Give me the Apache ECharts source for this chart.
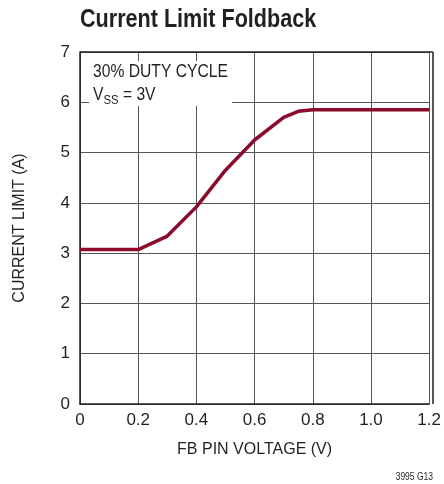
<!DOCTYPE html>
<html><head><meta charset="utf-8">
<script src="https://cdn.jsdelivr.net/npm/echarts@6/dist/echarts.min.js"></script>
<style>html,body{margin:0;padding:0;background:#fff}#c{width:444px;height:484px}</style>
</head><body><div id="c"></div>
<script>
var fbVoltage = [0, 0.1, 0.2, 0.3, 0.4, 0.5, 0.6, 0.7, 0.75, 0.8, 0.9, 1.0, 1.1, 1.2];
var currentLimit = [3.07, 3.07, 3.07, 3.34, 3.92, 4.65, 5.25, 5.7, 5.82, 5.85, 5.85, 5.85, 5.85, 5.85];
var xTicks = ['0', '0.2', '0.4', '0.6', '0.8', '1.0', '1.2'];
var FONT = '"Liberation Sans", Arial, sans-serif';
var chart = echarts.init(document.getElementById('c'), null, {renderer: 'canvas'});
var data = fbVoltage.map(function (v, i) { return [v, currentLimit[i]]; });
chart.setOption({
  animation: false,
  grid: {left: 80, right: 11, top: 52, bottom: 80},
  xAxis: {type: 'value', min: 0, max: 1.2, interval: 0.2,
    name: 'FB PIN VOLTAGE (V)', nameLocation: 'middle', nameGap: 38,
    nameTextStyle: {fontFamily: FONT, fontSize: 16, color: '#231f20'},
    axisLine: {show: true, lineStyle: {color: '#231f20', width: 1.5}},
    axisTick: {show: false},
    axisLabel: {fontFamily: FONT, fontSize: 17, color: '#231f20', margin: 8,
      formatter: function (v) { return xTicks[Math.round(v / 0.2)]; }},
    splitLine: {show: true, lineStyle: {color: '#555', width: 1}}},
  yAxis: {type: 'value', min: 0, max: 7, interval: 1,
    name: 'CURRENT LIMIT (A)', nameLocation: 'middle', nameGap: 52, nameRotate: 90,
    nameTextStyle: {fontFamily: FONT, fontSize: 16, color: '#231f20'},
    axisLine: {show: true, lineStyle: {color: '#231f20', width: 1.5}},
    axisTick: {show: false},
    axisLabel: {fontFamily: FONT, fontSize: 17, color: '#231f20', margin: 10},
    splitLine: {show: true, lineStyle: {color: '#555', width: 1}}},
  series: [{type: 'line', data: data, symbol: 'none', z: 5,
    lineStyle: {color: '#8c0a2c', width: 3.5}}],
  graphic: [
    {type: 'text', x: 80, y: 7, scaleX: 0.83, z: 6,
      style: {text: 'Current Limit Foldback', fontFamily: FONT, fontWeight: 'bold', fontSize: 26, fill: '#231f20'}},
    {type: 'rect', shape: {x: 89, y: 61, width: 143, height: 45}, style: {fill: '#fff'}, z: 3},
    {type: 'line', shape: {x1: 80, y1: 52, x2: 433, y2: 52}, style: {stroke: '#231f20', lineWidth: 1.5}, z: 4},
    {type: 'line', shape: {x1: 433, y1: 52, x2: 433, y2: 404}, style: {stroke: '#231f20', lineWidth: 1.5}, z: 4},
    {type: 'text', x: 93, y: 63, scaleX: 0.87, z: 6,
      style: {text: '30% DUTY CYCLE', fontFamily: FONT, fontSize: 18, fill: '#231f20'}},
    {type: 'text', x: 93, y: 86, scaleX: 0.87, z: 6,
      style: {text: '{a|V}{b|SS}{a| = 3V}', fontFamily: FONT, fill: '#231f20',
        rich: {a: {fontFamily: FONT, fontSize: 18, fill: '#231f20', verticalAlign: 'bottom'},
               b: {fontFamily: FONT, fontSize: 13, fill: '#231f20', verticalAlign: 'bottom', padding: [0, 0, -3, 0]}}}},
    {type: 'text', x: 433, y: 472, scaleX: 0.85, z: 6,
      style: {text: '3995 G13', fontFamily: FONT, fontSize: 10, fill: '#231f20', align: 'right'}}
  ]
});
</script></body></html>
